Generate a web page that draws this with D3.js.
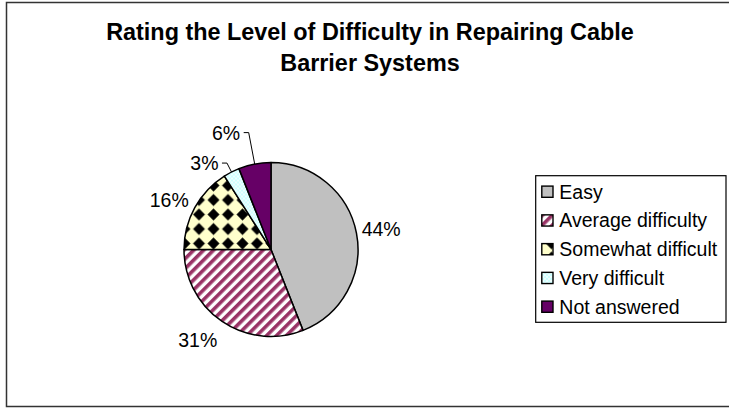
<!DOCTYPE html>
<html><head><meta charset="utf-8">
<script src="https://cdn.jsdelivr.net/npm/d3@7"></script>
<style>html,body{margin:0;padding:0;background:#fff;overflow:hidden}</style>
</head><body>
<svg id="c" width="729" height="408"></svg>
<script>
const titleLines = ["Rating the Level of Difficulty in Repairing Cable", "Barrier Systems"];
const categories = ["Easy", "Average difficulty", "Somewhat difficult", "Very difficult", "Not answered"];
const values = [44, 31, 16, 3, 6];

const svg = d3.select("#c");
const FONT = "'Liberation Sans', Arial, sans-serif";

// outer border
svg.append("rect").attr("x", 6.5).attr("y", 2.5).attr("width", 740).attr("height", 404)
  .attr("fill", "#fff").attr("stroke", "#333").attr("stroke-width", 1.5);

// patterns
const defs = svg.append("defs");
const pAvg = defs.append("pattern").attr("id", "pAvg").attr("patternUnits", "userSpaceOnUse")
  .attr("width", 7).attr("height", 7).attr("patternTransform", "rotate(45)");
pAvg.append("rect").attr("width", 7).attr("height", 7).attr("fill", "#fff");
pAvg.append("rect").attr("width", 3.6).attr("height", 7).attr("fill", "#993366");

const pSom = defs.append("pattern").attr("id", "pSom").attr("patternUnits", "userSpaceOnUse")
  .attr("x", 7.75).attr("y", 1.25).attr("width", 14.5).attr("height", 14.5);
pSom.append("rect").attr("width", 14.5).attr("height", 14.5).attr("fill", "#FFFFCC");
pSom.append("path").attr("d", "M7.25,1.3L13.2,7.25L7.25,13.2L1.3,7.25Z").attr("fill", "#000");

const pVery = defs.append("pattern").attr("id", "pVery").attr("patternUnits", "userSpaceOnUse")
  .attr("width", 4).attr("height", 4);
pVery.append("rect").attr("width", 4).attr("height", 4).attr("fill", "#CCFFFF");
pVery.append("circle").attr("cx", 1).attr("cy", 1).attr("r", 0.9).attr("fill", "#fff");
pVery.append("circle").attr("cx", 3).attr("cy", 3).attr("r", 0.9).attr("fill", "#fff");

const fills = d3.scaleOrdinal().domain(categories)
  .range(["#C0C0C0", "url(#pAvg)", "url(#pSom)", "url(#pVery)", "#660066"]);

// title
svg.append("g").selectAll("text").data(titleLines).join("text")
  .attr("x", 370).attr("y", (d, i) => 40 + i * 30.5)
  .attr("text-anchor", "middle").attr("font-family", FONT).attr("font-weight", "bold")
  .attr("font-size", 23.4).attr("fill", "#000").text(d => d);

// pie
const cx = 271, cy = 249.5, R = 87;
const pie = d3.pie().sort(null).value(d => d.v);
const arcs = pie(categories.map((c, i) => ({ c, v: values[i] })));
const arc = d3.arc().innerRadius(0).outerRadius(R);
const g = svg.append("g").attr("transform", `translate(${cx},${cy})`);
g.selectAll("path").data(arcs).join("path")
  .attr("d", arc).attr("fill", d => fills(d.data.c))
  .attr("stroke", "#000").attr("stroke-width", 1.5).attr("stroke-linejoin", "round");

// labels: [radius, angle shift in degrees]
const labelPos = { "Easy": [112, 0.5], "Average difficulty": [116.4, 4.8], "Somewhat difficult": [113.2, -2.8] };
const leaderR = { "Very difficult": 97, "Not answered": 119 };
arcs.forEach(d => {
  const mid = (d.startAngle + d.endAngle) / 2;
  const txt = d.data.v + "%";
  if (labelPos[d.data.c]) {
    const [r, sh] = labelPos[d.data.c];
    const [x, y] = d3.pointRadial(mid + sh * Math.PI / 180, r);
    g.append("text").attr("x", x).attr("y", y + 7).attr("text-anchor", "middle")
      .attr("font-family", FONT).attr("font-size", 19.5).attr("fill", "#000").text(txt);
  } else {
    const [ax, ay] = d3.pointRadial(mid, R);
    const [ex, ey] = d3.pointRadial(mid, leaderR[d.data.c]);
    g.append("path").attr("d", `M${ax},${ay}L${ex},${ey}L${ex - 5},${ey}`)
      .attr("fill", "none").attr("stroke", "#000").attr("stroke-width", 1);
    g.append("text").attr("x", ex - 8.5).attr("y", ey + 7).attr("text-anchor", "end")
      .attr("font-family", FONT).attr("font-size", 19.5).attr("fill", "#000").text(txt);
  }
});

// legend
const lg = svg.append("g");
lg.append("rect").attr("x", 535.7).attr("y", 175.7).attr("width", 190.3).attr("height", 146.6)
  .attr("fill", "#fff").attr("stroke", "#000").attr("stroke-width", 1.2);
const rows = lg.selectAll("g.row").data(categories).join("g").attr("class", "row")
  .attr("transform", (d, i) => `translate(0,${191.7 + i * 28.75})`);
rows.append("rect").attr("x", 541.8).attr("y", -5.6).attr("width", 11.2).attr("height", 11.2)
  .attr("fill", d => fills(d)).attr("stroke", "#000").attr("stroke-width", 1.4);
rows.append("text").attr("x", 559.3).attr("y", 6.8)
  .attr("font-family", FONT).attr("font-size", 19.5).attr("fill", "#000").text(d => d);
</script>
</body></html>
